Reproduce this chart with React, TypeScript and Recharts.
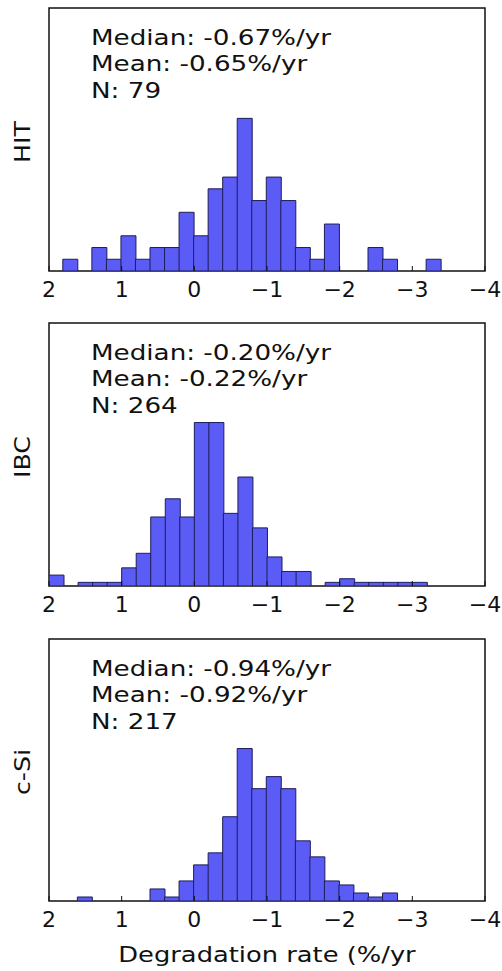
import React from 'react';
import { BarChart, Bar, XAxis, YAxis, ReferenceArea } from 'recharts';

// bin centres (%/yr) and counts
const hitBins = [1.71, 1.51, 1.31, 1.11, 0.91, 0.71, 0.51, 0.31, 0.11, -0.09, -0.29, -0.49, -0.69, -0.89, -1.09, -1.29, -1.49, -1.69, -1.89, -2.09, -2.29, -2.49, -2.69, -2.89, -3.09, -3.29];
const hitCounts = [1, 0, 2, 1, 3, 1, 2, 2, 5, 3, 7, 8, 13, 6, 8, 6, 2, 1, 4, 0, 0, 2, 1, 0, 0, 1];

const ibcBins = [1.9, 1.7, 1.5, 1.3, 1.1, 0.9, 0.7, 0.5, 0.3, 0.1, -0.1, -0.3, -0.5, -0.7, -0.9, -1.1, -1.3, -1.5, -1.7, -1.9, -2.1, -2.3, -2.5, -2.7, -2.9, -3.1];
const ibcCounts = [3, 0, 1, 1, 1, 5, 9, 19, 24, 19, 45, 45, 20, 30, 16, 8, 4, 4, 0, 1, 2, 1, 1, 1, 1, 1];

const csiBins = [1.51, 1.31, 1.11, 0.91, 0.71, 0.51, 0.31, 0.11, -0.09, -0.29, -0.49, -0.69, -0.89, -1.09, -1.29, -1.49, -1.69, -1.89, -2.09, -2.29, -2.49, -2.69];
const csiCounts = [1, 0, 0, 0, 0, 3, 1, 5, 9, 12, 21, 38, 28, 31, 28, 15, 11, 5, 4, 2, 1, 2];

const xTicks = [2, 1, 0, -1, -2, -3, -4];

const hitStats = ['Median: -0.67%/yr', 'Mean: -0.65%/yr', 'N: 79'];
const ibcStats = ['Median: -0.20%/yr', 'Mean: -0.22%/yr', 'N: 264'];
const csiStats = ['Median: -0.94%/yr', 'Mean: -0.92%/yr', 'N: 217'];

const FONT = '"DejaVu Sans", Verdana, sans-serif';
const INK = '#111';

const rows = (bins: number[], counts: number[]) => bins.map((x, i) => ({ x, count: counts[i] }));
const fmt = (v: number) => (v < 0 ? `\u2212${Math.abs(v)}` : `${v}`);

type PanelProps = {
  top: number;
  height: number;
  plotHeight: number;
  yMax: number;
  bins: number[];
  counts: number[];
  label: string;
  stats: string[];
  children?: React.ReactNode;
};

function Panel({ top, height, plotHeight, yMax, bins, counts, label, stats, children }: PanelProps) {
  return (
    <div style={{ position: 'absolute', left: 0, top, width: 502, height }}>
      <BarChart
        width={502}
        height={height}
        data={rows(bins, counts)}
        margin={{ top: 7, right: 17, left: 49, bottom: 0 }}
        barCategoryGap={0}
        barGap={0}
      >
        <XAxis
          dataKey="x"
          type="number"
          domain={[-4, 2]}
          reversed
          allowDataOverflow
          ticks={xTicks}
          interval={0}
          tickFormatter={fmt}
          height={height - 8 - plotHeight}
          axisLine={false}
          tickLine={{ stroke: INK }}
          tickSize={-5}
          tickMargin={15}
          tick={{ fill: INK, fontSize: 22, fontFamily: FONT }}
        />
        <XAxis
          xAxisId="top"
          orientation="top"
          dataKey="x"
          type="number"
          domain={[-4, 2]}
          reversed
          allowDataOverflow
          ticks={xTicks}
          interval={0}
          height={1}
          axisLine={false}
          tickLine={{ stroke: INK }}
          tickSize={-5}
          tick={false}
        />
        <YAxis domain={[0, yMax]} allowDataOverflow hide />
        <Bar dataKey="count" fill="#5b5bf5" stroke="#1e1e5a" strokeWidth={1} isAnimationActive={false} />
        <ReferenceArea x1={2} x2={-4} y1={0} y2={yMax} fill="none" fillOpacity={0} stroke={INK} strokeWidth={1.5} ifOverflow="visible" />
      </BarChart>

      <div
        style={{
          position: 'absolute',
          left: 91,
          top: 25,
          fontFamily: FONT,
          fontSize: 22,
          lineHeight: '26.3px',
          color: INK,
          whiteSpace: 'pre',
          transform: 'scaleX(1.19)',
          transformOrigin: 'left top',
        }}
      >
        {stats.join('\n')}
      </div>

      <div
        style={{
          position: 'absolute',
          left: 23,
          top: 8 + plotHeight / 2 + 2,
          fontFamily: FONT,
          fontSize: 22,
          lineHeight: '26px',
          color: INK,
          whiteSpace: 'nowrap',
          transform: 'translate(-50%, -50%) rotate(-90deg) scaleX(1.15)',
        }}
      >
        {label}
      </div>
      {children}
    </div>
  );
}

export default function App() {
  return (
    <div style={{ position: 'absolute', left: 0, top: 0, width: 502, height: 971, background: '#fff' }}>
      <Panel top={0} height={315} plotHeight={263} yMax={22.4} bins={hitBins} counts={hitCounts} label="HIT" stats={hitStats} />
      <Panel top={315} height={316} plotHeight={263} yMax={72.4} bins={ibcBins} counts={ibcCounts} label="IBC" stats={ibcStats} />
      <Panel top={631} height={340} plotHeight={262} yMax={65.3} bins={csiBins} counts={csiCounts} label="c-Si" stats={csiStats}>
        <div
          style={{
            position: 'absolute',
            left: 267,
            top: 311,
            fontFamily: FONT,
            fontSize: 22,
            lineHeight: '26px',
            color: INK,
            whiteSpace: 'nowrap',
            transform: 'translateX(-50%) scaleX(1.17)',
          }}
        >
          Degradation rate (%/yr
        </div>
      </Panel>
    </div>
  );
}
